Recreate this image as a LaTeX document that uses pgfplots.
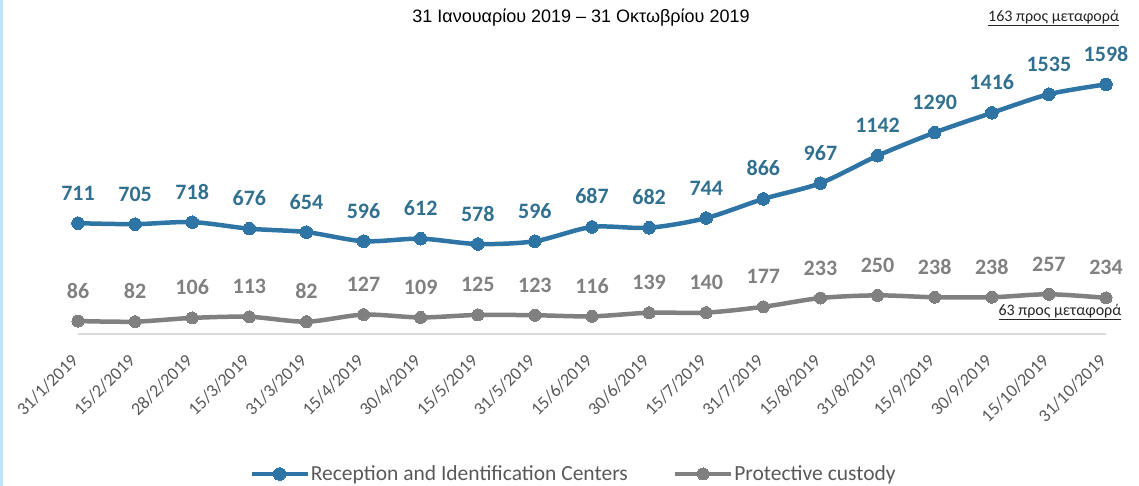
\documentclass[border=0pt]{standalone}
\usepackage{pgfplots}
\pgfplotsset{compat=1.18}
\usepackage{pgfplotstable}
\usepackage{fontspec}
\setmainfont{Carlito}
\newfontfamily\arialfont{Liberation Sans}
\definecolor{ricblue}{HTML}{2E75A6}
\definecolor{riclab}{HTML}{31708F}
\definecolor{pcgray}{HTML}{808080}
\definecolor{txtgray}{HTML}{595959}
\definecolor{axgray}{HTML}{D9D9D9}
\definecolor{edgeblue}{HTML}{BDE6FA}
\definecolor{notegray}{HTML}{262626}

\pgfplotstableread{
x ric pc
0 711 86
1 705 82
2 718 106
3 676 113
4 654 82
5 596 127
6 612 109
7 578 125
8 596 123
9 687 116
10 682 139
11 744 140
12 866 177
13 967 233
14 1142 250
15 1290 238
16 1416 238
17 1535 257
18 1598 234
}\datatable

\begin{document}
\begin{tikzpicture}[x=1pt,y=1pt]
\useasboundingbox (0,0) rectangle (1139,486);
\fill[edgeblue] (0,0) rectangle (2.5,486);
\begin{axis}[
  at={(78pt,151.5pt)}, anchor=south west,
  scale only axis, width=1028pt, height=334.5pt,
  xmin=0, xmax=18, ymin=0, ymax=2137,
  clip=false,
  axis x line*=bottom, axis y line=none,
  x axis line style={draw=axgray, line width=2pt, -},
  major tick length=0pt,
  xtick={0,...,18},
  xticklabels={31/1/2019,15/2/2019,28/2/2019,15/3/2019,31/3/2019,15/4/2019,30/4/2019,15/5/2019,31/5/2019,15/6/2019,30/6/2019,15/7/2019,31/7/2019,15/8/2019,31/8/2019,15/9/2019,30/9/2019,15/10/2019,31/10/2019},
  xticklabel style={font=\fontsize{18}{22}\selectfont, text=txtgray, xshift=-3pt, yshift=-23pt, rotate=45, anchor=east, inner sep=0pt},
  point meta=explicit symbolic,
  nodes near coords,
  every node near coord/.append style={font=\fontsize{22}{26}\selectfont\bfseries, anchor=base, yshift=23pt, inner sep=0pt},
  legend columns=2,
  legend style={at={(axis description cs:0.4815,-0.417)}, anchor=center, draw=none, fill=none, font=\fontsize{21.5}{25}\selectfont, text=txtgray, inner sep=0pt, nodes={inner sep=1pt}, /tikz/every even column/.append style={column sep=44pt}},
  legend cell align=left,
  legend image code/.code={\draw[mark repeat=2,mark phase=2] plot coordinates {(0pt,0pt) (28pt,0pt) (56pt,0pt)};},
]
\addplot[ricblue, line width=4.5pt, smooth, mark=*, mark size=6.3pt, mark options={fill=ricblue, draw=ricblue, line width=0pt}, every node near coord/.append style={text=riclab}] table[x=x, y=ric, meta=ric] {\datatable};
\addlegendentry{Reception and Identification Centers}
\addplot[pcgray, line width=4.5pt, smooth, mark=*, mark size=6pt, mark options={fill=pcgray, draw=pcgray, line width=0pt}, every node near coord/.append style={text=pcgray}] table[x=x, y=pc, meta=pc] {\datatable};
\addlegendentry{Protective custody}
\end{axis}
\node[font=\arialfont\fontsize{18}{22}\selectfont, anchor=center] at (581,468) {31 Ιανουαρίου 2019 – 31 Οκτωβρίου 2019};
\node[font=\fontsize{16}{19}\selectfont, text=notegray, anchor=west, inner sep=0pt] at (988,468) {\underline{163 προς μεταφορά}};
\node[font=\fontsize{16}{19}\selectfont, text=notegray, anchor=center, inner sep=0pt] at (1060,174) {\underline{63 προς μεταφορά}};
\end{tikzpicture}
\end{document}
